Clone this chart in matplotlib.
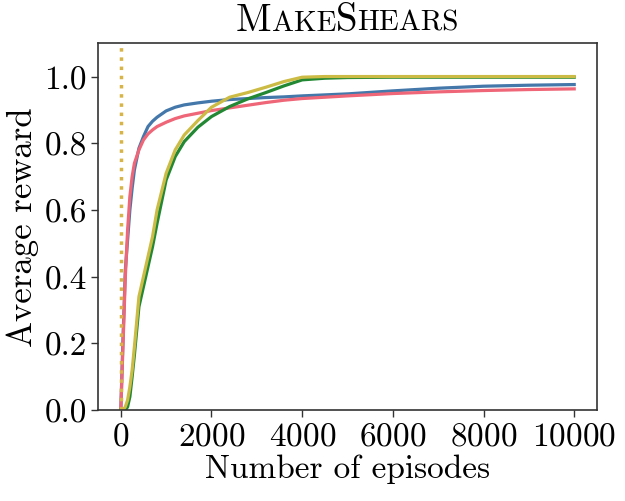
import matplotlib
matplotlib.use("Agg")
import matplotlib.pyplot as plt
from matplotlib.offsetbox import TextArea, HPacker, AnchoredOffsetbox

plt.rcParams["font.family"] = "cmr10"
plt.rcParams["mathtext.fontset"] = "cm"
plt.rcParams["axes.formatter.use_mathtext"] = True

# values
episodes = [0, 50, 100, 150, 200, 250, 300, 400, 500, 600, 700, 800, 1000, 1200,
            1400, 1700, 2000, 2400, 2800, 3200, 3600, 4000, 4500, 5000, 6000,
            7000, 8000, 9000, 10000]

blue_vals = [0.0, 0.22, 0.42, 0.51, 0.60, 0.665, 0.72, 0.785, 0.82, 0.85, 0.866,
             0.878, 0.897, 0.908, 0.915, 0.921, 0.926, 0.931, 0.934, 0.937,
             0.939, 0.942, 0.945, 0.948, 0.957, 0.965, 0.971, 0.974, 0.976]
red_vals = [0.0, 0.20, 0.40, 0.54, 0.64, 0.70, 0.74, 0.78, 0.81, 0.828, 0.84,
            0.85, 0.863, 0.874, 0.882, 0.89, 0.898, 0.906, 0.914, 0.922, 0.929,
            0.934, 0.938, 0.942, 0.949, 0.954, 0.958, 0.961, 0.963]
green_vals = [0.0, 0.0, 0.0, 0.01, 0.04, 0.10, 0.165, 0.31, 0.37, 0.43, 0.49,
              0.56, 0.69, 0.76, 0.805, 0.848, 0.88, 0.91, 0.933, 0.952, 0.972,
              0.99, 0.995, 0.997, 0.998, 0.998, 0.998, 0.998, 0.998]
yellow_vals = [0.0, 0.0, 0.01, 0.03, 0.07, 0.12, 0.19, 0.34, 0.40, 0.46, 0.52,
               0.60, 0.71, 0.78, 0.825, 0.868, 0.908, 0.938, 0.952, 0.968, 0.985,
               0.998, 1.0, 1.0, 1.0, 1.0, 1.0, 1.0, 1.0]

series = [
    (blue_vals, "#4477AA"),
    (red_vals, "#EE6677"),
    (green_vals, "#228833"),
    (yellow_vals, "#CCBB44"),
]

fig = plt.figure(figsize=(6.25, 5.02), dpi=100)
ax = fig.add_axes([0.157, 0.181, 0.798, 0.731])

for vals, col in series:
    ax.plot(episodes, vals, color=col, lw=2.3)

# marker for start of training
ax.axvline(0, color="#d6b445", ls=":", lw=2.5)

ax.set_xlim(-500, 10500)
ax.set_ylim(0, 1.1)
ax.set_xticks([0, 2000, 4000, 6000, 8000, 10000])
ax.set_yticks([0.0, 0.2, 0.4, 0.6, 0.8, 1.0])
ax.set_yticklabels(["0.0", "0.2", "0.4", "0.6", "0.8", "1.0"])
ax.tick_params(labelsize=24, length=5, width=1.0, color="#333333", pad=3)
for sp in ax.spines.values():
    sp.set_color("#333333")
    sp.set_linewidth(1.2)

ax.set_xlabel("Number of episodes", fontsize=24, labelpad=2)
ax.set_ylabel("Average reward", fontsize=25, labelpad=4)

# small-caps style title
parts = [("M", 28), ("AKE", 21), ("S", 28), ("HEARS", 21)]
boxes = [TextArea(t, textprops=dict(fontsize=s, family="cmr10")) for t, s in parts]
title = HPacker(children=boxes, align="baseline", pad=0, sep=0)
anch = AnchoredOffsetbox(loc="lower center", child=title, pad=0, borderpad=0,
                         frameon=False, bbox_to_anchor=(0.5, 1.015),
                         bbox_transform=ax.transAxes)
ax.add_artist(anch)

fig.savefig("out.png", dpi=100)
